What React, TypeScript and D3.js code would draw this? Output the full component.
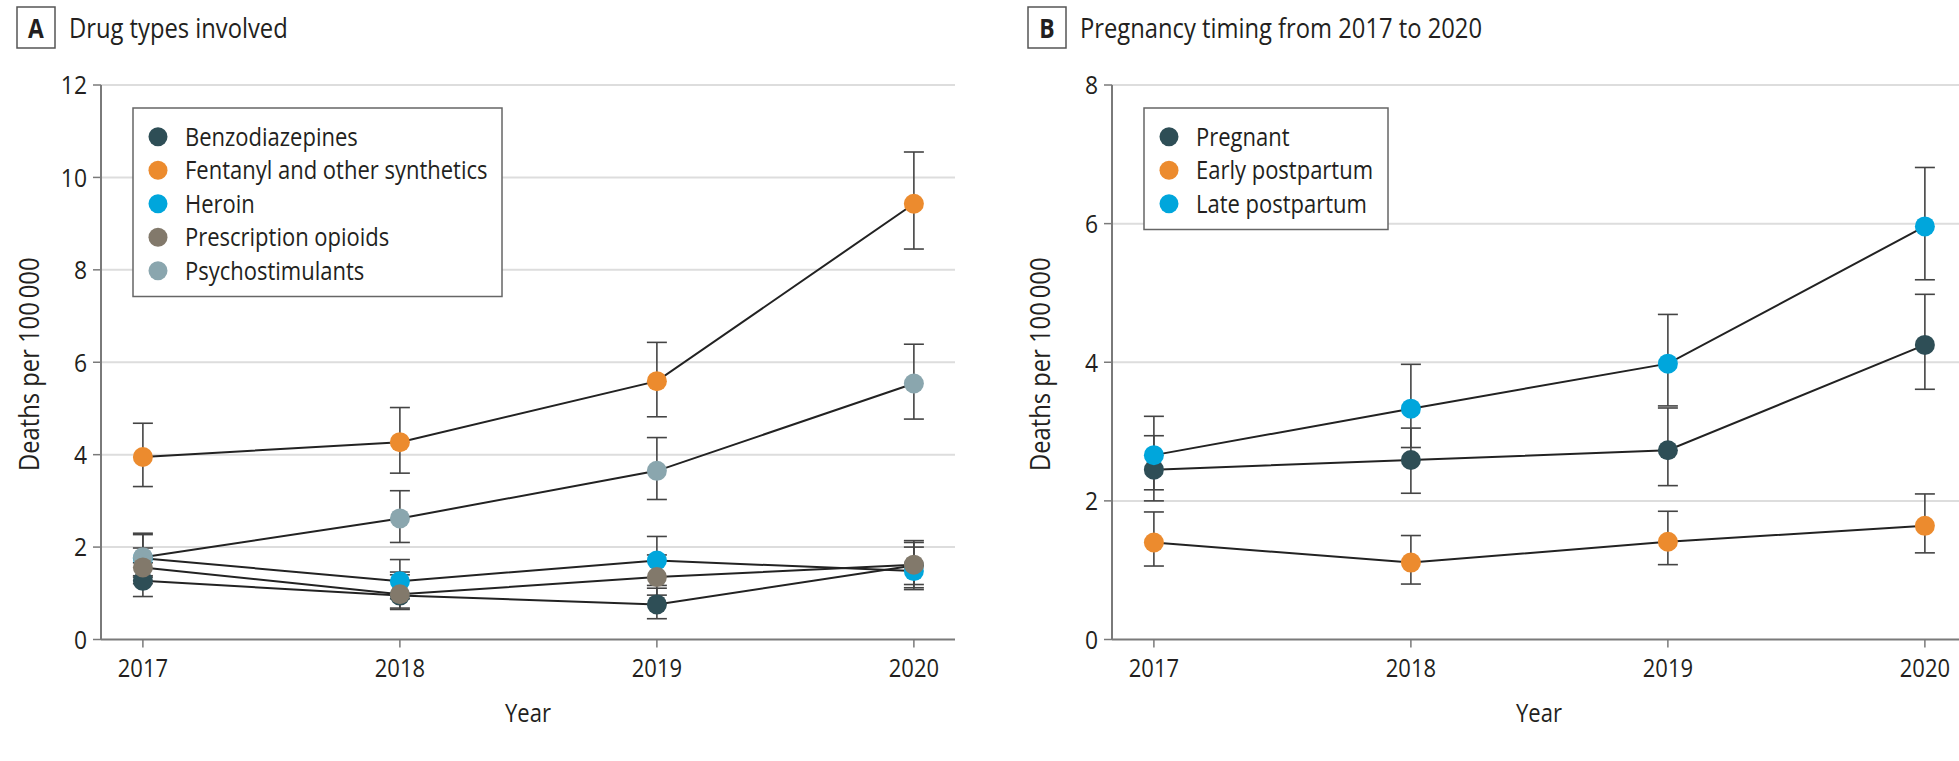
import * as d3 from 'd3';

const years = [2017, 2018, 2019, 2020];

// Panel A: drug types involved
const drugNames = ['Benzodiazepines', 'Fentanyl and other synthetics', 'Heroin', 'Prescription opioids', 'Psychostimulants'];
const drugColors = ['#2e4e56', '#ec8b2e', '#00a6dc', '#82796b', '#8aa6ae'];
const benzoRate = [1.27, 0.95, 0.76, 1.6];
const benzoLow = [0.93, 0.65, 0.45, 1.12];
const benzoHigh = [1.66, 1.4, 1.11, 2.1];
const fentanylRate = [3.95, 4.27, 5.59, 9.43];
const fentanylLow = [3.31, 3.6, 4.82, 8.45];
const fentanylHigh = [4.68, 5.02, 6.43, 10.55];
const heroinRate = [1.76, 1.26, 1.71, 1.48];
const heroinLow = [1.35, 0.88, 1.17, 1.08];
const heroinHigh = [2.27, 1.73, 2.23, 2.0];
const opioidRate = [1.56, 0.98, 1.35, 1.62];
const opioidLow = [1.21, 0.68, 0.96, 1.19];
const opioidHigh = [1.98, 1.46, 1.83, 2.14];
const stimRate = [1.78, 2.62, 3.65, 5.54];
const stimLow = [1.38, 2.1, 3.03, 4.77];
const stimHigh = [2.3, 3.22, 4.37, 6.39];
const drugTicks = [0, 2, 4, 6, 8, 10, 12];

// Panel B: pregnancy timing
const timingNames = ['Pregnant', 'Early postpartum', 'Late postpartum'];
const timingColors = ['#2e4e56', '#ec8b2e', '#00a6dc'];
const pregnantRate = [2.45, 2.59, 2.73, 4.25];
const pregnantLow = [2.0, 2.11, 2.22, 3.61];
const pregnantHigh = [2.94, 3.05, 3.34, 4.98];
const earlyRate = [1.4, 1.11, 1.41, 1.64];
const earlyLow = [1.06, 0.8, 1.08, 1.25];
const earlyHigh = [1.84, 1.5, 1.85, 2.1];
const lateRate = [2.66, 3.33, 3.98, 5.96];
const lateLow = [2.16, 2.77, 3.37, 5.19];
const lateHigh = [3.22, 3.97, 4.69, 6.81];
const timingTicks = [0, 2, 4, 6, 8];

const FONT = "'Open Sans', 'DejaVu Sans', sans-serif";
const TEXT = '#231f20';
const SQUEEZE = 0.88; // the journal font is narrower than Open Sans

type Series = { name: string; color: string; rate: number[]; low: number[]; high: number[] };

const drugSeries: Series[] = [
  { name: drugNames[0], color: drugColors[0], rate: benzoRate, low: benzoLow, high: benzoHigh },
  { name: drugNames[1], color: drugColors[1], rate: fentanylRate, low: fentanylLow, high: fentanylHigh },
  { name: drugNames[2], color: drugColors[2], rate: heroinRate, low: heroinLow, high: heroinHigh },
  { name: drugNames[3], color: drugColors[3], rate: opioidRate, low: opioidLow, high: opioidHigh },
  { name: drugNames[4], color: drugColors[4], rate: stimRate, low: stimLow, high: stimHigh },
];
// draw order seen in the figure
const drugOrder = [0, 1, 2, 4, 3];

const timingSeries: Series[] = [
  { name: timingNames[0], color: timingColors[0], rate: pregnantRate, low: pregnantLow, high: pregnantHigh },
  { name: timingNames[1], color: timingColors[1], rate: earlyRate, low: earlyLow, high: earlyHigh },
  { name: timingNames[2], color: timingColors[2], rate: lateRate, low: lateLow, high: lateHigh },
];
const timingOrder = [0, 1, 2];

type TProps = { x: number; y: number; size: number; anchor?: string; rotate?: number; bold?: boolean; dy?: string; children: any };

const T = ({ x, y, size, anchor = 'start', rotate = 0, bold = false, dy, children }: TProps) => (
  <text
    transform={`translate(${x},${y}) rotate(${rotate}) scale(${SQUEEZE},1)`}
    textAnchor={anchor}
    fontSize={size}
    fontWeight={bold ? 700 : 500}
    dy={dy}
  >
    {children}
  </text>
);

type PanelProps = {
  letter: string;
  title: string;
  left: number;
  right: number;
  yMax: number;
  ticks: number[];
  series: Series[];
  order: number[];
  legendWidth: number;
};

const Panel = ({ letter, title, left, right, yMax, ticks, series, order, legendWidth }: PanelProps) => {
  const top = 85;
  const bottom = 639.5;
  // years sit 0.163 of a step inside each end of the axis
  const x = d3.scaleLinear().domain([2017 - 0.163, 2020 + 0.16]).range([left, right]);
  const y = d3.scaleLinear().domain([0, yMax]).range([bottom, top]);
  const line = d3.line<number>().x((_, i) => x(years[i])).y(d => y(d));
  const ordered = order.map(i => series[i]);
  const boxLeft = left - 84;
  const legendLeft = left + 32;
  const legendTop = 108;
  const rowH = 33.5;

  return (
    <g fontFamily={FONT} fill={TEXT}>
      <rect x={boxLeft} y={7} width={38} height={41} fill="#fff" stroke="#555" strokeWidth={1.5} />
      <T x={boxLeft + 19} y={37.5} anchor="middle" bold size={26}>{letter}</T>
      <T x={boxLeft + 52} y={38} size={27}>{title}</T>

      {ticks.filter(t => t > 0).map(t => (
        <line key={'g' + t} x1={left} x2={right} y1={y(t)} y2={y(t)} stroke="#dddddd" strokeWidth={2} />
      ))}
      <line x1={left} x2={left} y1={top} y2={bottom} stroke="#7a7a7a" strokeWidth={2} />
      <line x1={left} x2={right} y1={bottom} y2={bottom} stroke="#7a7a7a" strokeWidth={2} />
      {ticks.map(t => (
        <g key={'t' + t}>
          <line x1={left - 8} x2={left} y1={y(t)} y2={y(t)} stroke="#7a7a7a" strokeWidth={1.5} />
          <T x={left - 14} y={y(t)} dy="0.36em" anchor="end" size={26}>{t}</T>
        </g>
      ))}
      {years.map(yr => (
        <g key={'x' + yr}>
          <line x1={x(yr)} x2={x(yr)} y1={bottom} y2={bottom + 8} stroke="#7a7a7a" strokeWidth={1.5} />
          <T x={x(yr)} y={677} anchor="middle" size={25}>{yr}</T>
        </g>
      ))}
      <T x={(left + right) / 2} y={722} anchor="middle" size={25}>Year</T>
      <T x={left - 62} y={(top + bottom) / 2 + 2} rotate={-90} anchor="middle" size={27}>
        Deaths per 100{'\u2009'}000
      </T>

      {ordered.map(s => (
        <g key={'e' + s.name} stroke="#444" strokeWidth={1.6}>
          {years.map((yr, i) => (
            <g key={yr}>
              <line x1={x(yr)} x2={x(yr)} y1={y(s.low[i])} y2={y(s.high[i])} />
              <line x1={x(yr) - 10} x2={x(yr) + 10} y1={y(s.low[i])} y2={y(s.low[i])} />
              <line x1={x(yr) - 10} x2={x(yr) + 10} y1={y(s.high[i])} y2={y(s.high[i])} />
            </g>
          ))}
        </g>
      ))}
      {ordered.map(s => (
        <path key={'l' + s.name} d={line(s.rate) ?? ''} fill="none" stroke="#222" strokeWidth={2} />
      ))}
      {ordered.map(s => (
        <g key={'p' + s.name}>
          {years.map((yr, i) => (
            <circle key={yr} cx={x(yr)} cy={y(s.rate[i])} r={10} fill={s.color} />
          ))}
        </g>
      ))}

      <rect x={legendLeft} y={legendTop} width={legendWidth} height={rowH * series.length + 21} fill="#fff" stroke="#666" strokeWidth={1.5} />
      {series.map((s, i) => (
        <g key={'k' + s.name}>
          <circle cx={legendLeft + 25} cy={legendTop + 28.7 + i * rowH} r={9.5} fill={s.color} />
          <T x={legendLeft + 52} y={legendTop + 28.7 + i * rowH} dy="0.36em" size={25}>{s.name}</T>
        </g>
      ))}
    </g>
  );
};

export default function App() {
  return (
    <svg width={1959} height={761} style={{ position: 'absolute', left: 0, top: 0, background: '#fff' }}>
      <rect width={1959} height={761} fill="#fff" />
      <Panel letter="A" title="Drug types involved" left={101} right={955} yMax={12} ticks={drugTicks}
        series={drugSeries} order={drugOrder} legendWidth={369} />
      <Panel letter="B" title="Pregnancy timing from 2017 to 2020" left={1112} right={1966} yMax={8} ticks={timingTicks}
        series={timingSeries} order={timingOrder} legendWidth={244} />
    </svg>
  );
}
